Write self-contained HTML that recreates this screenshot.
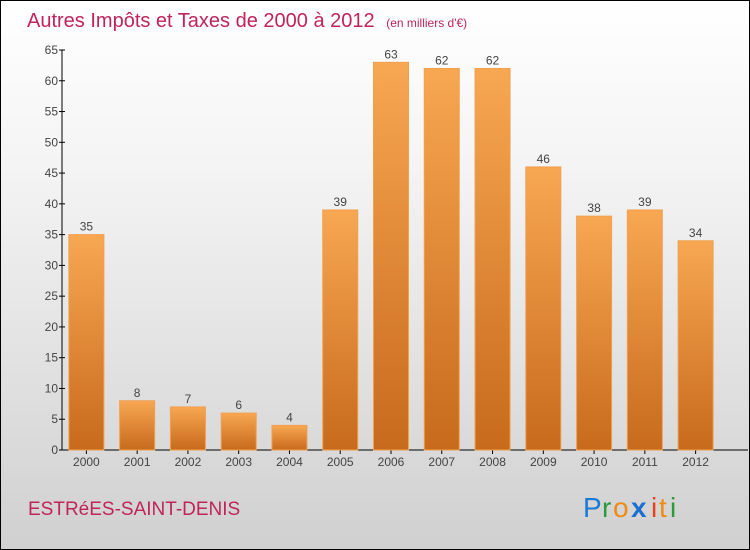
<!DOCTYPE html>
<html><head><meta charset="utf-8"><style>
html,body{margin:0;padding:0}
body{width:750px;height:550px;overflow:hidden;font-family:"Liberation Sans",sans-serif}
#frame{position:absolute;left:0;top:0;width:748px;height:548px;border:1px solid #000;background:linear-gradient(#ffffff,#f4f4f4 30%,#d0d0d0)}
</style></head><body>
<div id="frame">
<svg width="750" height="550" style="position:absolute;left:-1px;top:-1px" id="chart">
<defs><linearGradient id="bg" x1="0" y1="0" x2="0" y2="1"><stop offset="0" stop-color="#f8a752"/><stop offset="1" stop-color="#c76a1c"/></linearGradient></defs>
<text x="27" y="27" font-size="20" fill="#c0245a">Autres Impôts et Taxes de 2000 à 2012 <tspan font-size="12" dx="6">(en milliers d'€)</tspan></text>
<text x="28" y="515" font-size="19" fill="#c0245a">ESTRéES-SAINT-DENIS</text>
<g font-size="28" font-family="'Liberation Sans',sans-serif">
<text x="583" y="517" fill="#1a7bd6">P</text><text x="602" y="517" fill="#2a9a3a">r</text><text x="613" y="517" fill="#f08a10">o</text><text x="631" y="517" fill="#1a6fd0" font-weight="bold">x</text><text x="651" y="517" fill="#e8401a">i</text><text x="659" y="517" fill="#f08a10">t</text><text x="670" y="517" fill="#2a9a3a">i</text>
</g>
<g id="axes"></g><g id="bars"></g>
</svg></div>
<script>
const categories=["2000","2001","2002","2003","2004","2005","2006","2007","2008","2009","2010","2011","2012"];
const values=[35,8,7,6,4,39,63,62,62,46,38,39,34];
const yTicks=[0,5,10,15,20,25,30,35,40,45,50,55,60,65];
const NS="http://www.w3.org/2000/svg";
const x0=62,x1=722,yBase=450,yTop=50,yMax=65;
const y=v=>yBase-(yBase-yTop)*v/yMax;
const step=(x1-x0)/categories.length;
const xc=i=>x0+step*(i+0.5)-1;
function mk(tag,attrs,parent){const e=document.createElementNS(NS,tag);for(const k in attrs)e.setAttribute(k,attrs[k]);parent.appendChild(e);return e;}
const ax=document.getElementById('axes'),bars=document.getElementById('bars');
let l=mk('line',{x1:x0,y1:yTop,x2:x0,y2:yBase,stroke:'#000'},ax);


l=mk('line',{x1:x0,y1:yBase,x2:x1+26,y2:yBase,stroke:'#000'},ax);


yTicks.forEach(t=>{
 mk('line',{x1:x0-3,x2:x0+3,y1:y(t),y2:y(t),stroke:'#000'},ax);
 const tx=mk('text',{x:x0-4,y:y(t)+4,'text-anchor':'end','font-size':12,fill:'#444'},ax);
 tx.textContent=t;
 
 
});
categories.forEach((c,i)=>{
 const v=values[i],cx=xc(i),w=35;
 const r=mk('rect',{x:cx-w/2,y:y(v),width:w,height:yBase-y(v),fill:'url(#bg)',stroke:'#f0a050','stroke-width':1},bars);
 
 
 const lb=mk('text',{x:cx,y:y(v)-4,'text-anchor':'middle','font-size':12,fill:'#444'},bars);
 lb.textContent=v;
 
 
 mk('line',{x1:cx,x2:cx,y1:yBase,y2:yBase+4,stroke:'#000'},ax);
 const xt=mk('text',{x:cx,y:yBase+16,'text-anchor':'middle','font-size':12,fill:'#444'},ax);
 xt.textContent=c;
 
 
});
</script>
</body></html>
